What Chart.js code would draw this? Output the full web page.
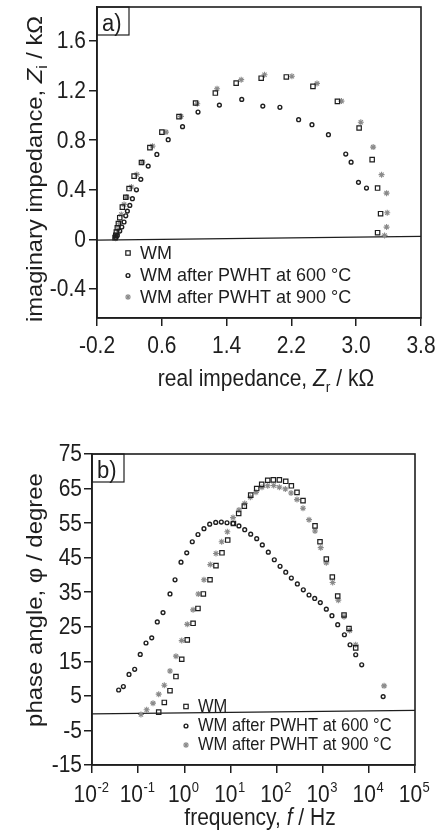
<!DOCTYPE html>
<html><head><meta charset="utf-8">
<script src="https://cdn.jsdelivr.net/npm/chart.js@4.4.1/dist/chart.umd.min.js"></script>
<style>
html,body{margin:0;padding:0;background:#fff;}
#wrap{position:relative;width:440px;height:836px;overflow:hidden;}
canvas{position:absolute;left:0;}
#ca{top:0;} #cb{top:410px;}
</style></head><body>
<div id="wrap"><canvas id="ca" width="440" height="410"></canvas><canvas id="cb" width="440" height="426"></canvas></div>
<script>
const FONT = '"Liberation Sans", Arial, Helvetica, sans-serif';
const INK = '#1e1e1e';
const GREY = '#8a8a8a';
const STRETCH = 1.11;

// ---------- (a) Nyquist data, kΩ ----------
const wmZr = [0.023,0.032,0.039,0.051,0.064,0.081,0.113,0.155,0.196,0.258,0.349,0.453,0.601,0.812,1.017,1.261,1.518,1.827,2.137,2.466,2.768,3.036,3.197,3.264,3.301,3.264];
const wmZi = [0.014,0.032,0.059,0.094,0.127,0.175,0.26,0.34,0.41,0.51,0.62,0.74,0.865,0.99,1.10,1.18,1.26,1.30,1.31,1.234,1.113,0.898,0.643,0.414,0.207,0.054];
const p600Zr = [0.032,0.051,0.081,0.106,0.134,0.155,0.175,0.205,0.237,0.287,0.341,0.432,0.539,0.679,0.856,1.047,1.311,1.587,1.847,2.058,2.289,2.454,2.657,2.871,2.937,3.028,3.127];
const p600Zi = [0.014,0.032,0.067,0.10,0.14,0.19,0.228,0.274,0.328,0.40,0.484,0.591,0.685,0.804,0.909,1.027,1.083,1.129,1.075,1.065,0.965,0.925,0.844,0.688,0.623,0.46,0.414];
const p900Zr = [0.03,0.045,0.06,0.08,0.1,0.134,0.168,0.225,0.292,0.361,0.485,0.651,0.836,1.038,1.282,1.58,1.868,2.206,2.516,2.818,3.057,3.209,3.313,3.375,3.383,3.375,3.35];
const p900Zi = [0.01,0.04,0.08,0.13,0.2,0.282,0.341,0.422,0.524,0.623,0.752,0.865,0.992,1.094,1.215,1.288,1.328,1.315,1.258,1.115,0.944,0.744,0.522,0.373,0.215,0.099,0.032];
const fitAx = [-0.2, 3.8];
const fitAy = [-0.006, 0.024];
const xTicksA = [-0.2, 0.6, 1.4, 2.2, 3.0, 3.8];
const yTicksA = [-0.4, 0, 0.4, 0.8, 1.2, 1.6];

// ---------- (b) Bode phase data ----------
const wmF = [0.279,0.369,0.49,0.66,0.88,1.16,1.55,1.98,2.59,3.61,4.86,6.56,8.73,11.6,15.1,20.0,27.5,37.1,47.6,64.3,85.1,115,158,209,277,374,681,873,1197,1614,2113,2897,3715,5188];
const wmPh = [0.3,3.1,6.5,10.6,15.6,21.2,26.0,30.3,34.5,38.6,42.7,46.4,50.1,54.9,57.8,59.9,63.1,65.0,66.2,67.4,67.5,67.5,67.1,65.8,63.9,61.5,54.2,49.6,44.6,39.4,33.9,28.4,24.5,18.9];
const p600F = [0.0378,0.0478,0.0634,0.0841,0.111,0.148,0.197,0.26,0.346,0.49,0.63,0.849,1.13,1.49,1.98,2.67,3.55,4.8,6.35,8.43,11.4,15.3,20.4,27.5,37.1,49.1,66.2,89.3,119,158,209,282,380,505,671,887,1197,1585,2113,2951,3908,5188,7000,20400];
const p600Ph = [6.7,7.7,11.2,12.7,17.0,20.3,21.8,26.4,29.1,34.5,38.6,43.7,46.4,49.6,51.7,53.4,54.7,55.2,55.3,55.1,54.9,54.2,53.1,51.8,50.5,48.7,46.6,44.4,42.5,40.8,39.1,37.4,35.7,34.2,33.2,32.0,30.1,28.2,25.6,22.7,19.8,16.9,14.0,4.8];
const p900F = [0.115,0.153,0.21,0.279,0.369,0.49,0.66,0.88,1.16,1.55,2.01,2.67,3.66,4.86,6.46,8.57,11.4,15.3,20.4,27.0,35.8,48.3,64.3,86.7,115,155,206,277,374,505,681,906,1197,1644,2178,2897,3846,5188,21380];
const p900Ph = [-0.4,1.0,2.9,5.5,8.1,12.2,16.5,21.0,25.7,29.9,34.5,38.6,43.0,46.2,49.6,52.5,56.6,58.8,60.7,62.5,63.9,65.4,65.8,65.9,65.4,64.9,63.7,61.8,59.3,56.0,52.7,47.9,43.5,37.8,32.7,27.9,23.9,19.8,7.9];
const fitBx = [0.01, 1e5];
const fitBy = [-0.2, 0.8];
const xTicksB = [1e-2, 1e-1, 1e0, 1e1, 1e2, 1e3, 1e4, 1e5];
const yTicksB = [-15, -5, 5, 15, 25, 35, 45, 55, 65, 75];

const legendLabels = ['WM', 'WM after PWHT at 600 °C', 'WM after PWHT at 900 °C'];

function pts(xs, ys) { return xs.map((x, i) => ({ x: x, y: ys[i] })); }

function seriesSets(a, b, c, fit) {
  return [
    { type: 'scatter', data: a, pointStyle: 'rect', pointRadius: 3.1, borderColor: INK, backgroundColor: 'rgba(0,0,0,0)', pointBorderWidth: 1.2 },
    { type: 'scatter', data: b, pointStyle: 'circle', pointRadius: 1.9, borderColor: INK, backgroundColor: 'rgba(0,0,0,0)', pointBorderWidth: 1.4 },
    { type: 'scatter', data: c, pointStyle: 'star', pointRadius: 3.0, borderColor: GREY, backgroundColor: 'rgba(0,0,0,0)', pointBorderWidth: 1.1 },
    { type: 'line', data: fit, borderColor: INK, borderWidth: 1.3, pointRadius: 0, fill: false, tension: 0 }
  ];
}

function font(size, style) { return (style || '') + ' ' + size + 'px ' + FONT; }

// text drawn with a slight stretch to mimic the reference's glyph proportions
function textS(ctx, s, x, y, sx, sy) {
  ctx.save(); ctx.translate(x, y); ctx.scale(sx, sy); ctx.fillText(s, 0, 0); ctx.restore();
}

function drawRich(ctx, parts, x, y, sx, sy) {
  let w = 0;
  parts.forEach(p => { ctx.font = font(p.s, p.i ? 'italic' : ''); p.w = ctx.measureText(p.t).width; w += p.w; });
  ctx.save(); ctx.translate(x, y); ctx.scale(sx, sy);
  let cx = -w / 2;
  ctx.textAlign = 'left'; ctx.textBaseline = 'alphabetic';
  parts.forEach(p => { ctx.font = font(p.s, p.i ? 'italic' : ''); ctx.fillText(p.t, cx, (p.dy || 0)); cx += p.w; });
  ctx.restore();
}

function legendMarker(ctx, kind, x, y) {
  ctx.save();
  if (kind === 0) { ctx.strokeStyle = INK; ctx.lineWidth = 1.2; ctx.strokeRect(x - 2.2, y - 2.2, 4.4, 4.4); }
  else if (kind === 1) { ctx.strokeStyle = INK; ctx.lineWidth = 1.4; ctx.beginPath(); ctx.arc(x, y, 1.9, 0, Math.PI * 2); ctx.stroke(); }
  else { ctx.strokeStyle = GREY; ctx.lineWidth = 1.1; ctx.beginPath();
    for (let k = 0; k < 4; k++) { const a = k * Math.PI / 4; ctx.moveTo(x - 3 * Math.cos(a), y - 3 * Math.sin(a)); ctx.lineTo(x + 3 * Math.cos(a), y + 3 * Math.sin(a)); }
    ctx.stroke(); }
  ctx.restore();
}

function makeDecor(cfg) {
  return {
    id: 'decor',
    afterDraw(chart) {
      const ctx = chart.ctx, ca = chart.chartArea, xs = chart.scales.x, ys = chart.scales.y;
      ctx.save();
      ctx.strokeStyle = INK; ctx.lineWidth = 1.6;
      ctx.strokeRect(ca.left, ca.top, ca.right - ca.left, ca.bottom - ca.top);
      ctx.fillStyle = INK;
      // y tick labels
      ctx.font = font(cfg.tickSize); ctx.textAlign = 'right'; ctx.textBaseline = 'middle';
      ys.ticks.forEach(t => { textS(ctx, cfg.yFmt(t.value), cfg.yLabelRight, ys.getPixelForValue(t.value) + 1, 1, STRETCH); });
      // x tick labels
      xs.ticks.forEach(t => {
        const px = xs.getPixelForValue(t.value);
        if (cfg.log) {
          const e = String(Math.round(Math.log10(t.value)));
          ctx.font = font(cfg.tickSize); const w1 = ctx.measureText('10').width;
          ctx.font = font(13); const w2 = ctx.measureText(e).width;
          const x0 = px - (w1 + w2) / 2 - 1;
          ctx.textAlign = 'left'; ctx.textBaseline = 'alphabetic';
          ctx.font = font(cfg.tickSize); textS(ctx, '10', x0, cfg.xLabelBase, 1, STRETCH);
          ctx.font = font(13); textS(ctx, e, x0 + w1 + 0.5, cfg.xLabelBase - 10, 1, STRETCH);
        } else {
          ctx.font = font(cfg.tickSize); ctx.textAlign = 'center'; ctx.textBaseline = 'alphabetic';
          textS(ctx, cfg.xFmt(t.value), px, cfg.xLabelBase, 1, STRETCH);
        }
      });
      // axis titles
      drawRich(ctx, cfg.xTitle, cfg.xTitleX, cfg.xTitleY, 1, STRETCH);
      ctx.save(); ctx.translate(cfg.yTitleX, cfg.yTitleY); ctx.rotate(-Math.PI / 2);
      drawRich(ctx, cfg.yTitle, 0, 0, cfg.yTitleStretch, 1.04); ctx.restore();
      // panel label
      ctx.lineWidth = 1.2; ctx.strokeRect(ca.left, ca.top, cfg.boxW, cfg.boxH);
      ctx.font = font(22); ctx.textAlign = 'left'; ctx.textBaseline = 'alphabetic';
      textS(ctx, cfg.panel, ca.left + cfg.panelDx, ca.top + cfg.panelDy, 1, STRETCH);
      // legend
      ctx.font = font(cfg.legSize); ctx.textBaseline = 'middle'; ctx.textAlign = 'left';
      legendLabels.forEach((lab, i) => {
        legendMarker(ctx, i, cfg.legMarkX, cfg.legY[i]);
        ctx.fillStyle = INK; textS(ctx, lab, cfg.legTextX, cfg.legY[i] + 0.5, 1, cfg.legStretch);
      });
      ctx.restore();
    }
  };
}

function axisCommon(extra) {
  return Object.assign({
    ticks: { display: false },
    grid: { drawOnChartArea: false, drawTicks: true, tickLength: 8, color: INK, lineWidth: 1.5 },
    border: { display: true, color: INK, width: 1.6 },
    title: { display: false }
  }, extra);
}

Chart.defaults.font.family = FONT;

new Chart(document.getElementById('ca'), {
  data: { datasets: seriesSets(pts(wmZr, wmZi), pts(p600Zr, p600Zi), pts(p900Zr, p900Zi), pts(fitAx, fitAy)) },
  options: {
    responsive: false, animation: false, devicePixelRatio: 1,
    layout: { padding: { left: 0, right: 19, top: 7, bottom: 0 } },
    plugins: { legend: { display: false }, tooltip: { enabled: false } },
    scales: {
      x: axisCommon({ type: 'linear', min: -0.2, max: 3.8,
        afterBuildTicks: s => { s.ticks = xTicksA.map(v => ({ value: v })); },
        afterFit: s => { s.height = 92; } }),
      y: axisCommon({ type: 'linear', min: -0.634, max: 1.874,
        afterBuildTicks: s => { s.ticks = yTicksA.map(v => ({ value: v })); },
        afterFit: s => { s.width = 97; } })
    }
  },
  plugins: [makeDecor({
    tickSize: 21, yLabelRight: 86, xLabelBase: 353, log: false,
    yFmt: v => (v === 0 ? '0' : v.toFixed(1)), xFmt: v => v.toFixed(1),
    xTitle: [{ t: 'real impedance, ', s: 21 }, { t: 'Z', s: 21, i: true }, { t: 'r', s: 14, dy: 5 }, { t: ' / kΩ', s: 21 }],
    xTitleX: 266, xTitleY: 386,
    yTitle: [{ t: 'imaginary impedance, ', s: 21 }, { t: 'Z', s: 21, i: true }, { t: 'i', s: 14, dy: 5 }, { t: ' / kΩ', s: 21 }],
    yTitleX: 42, yTitleY: 169, yTitleStretch: 1.13,
    panel: 'a)', boxW: 32, boxH: 28, panelDx: 5, panelDy: 24,
    legSize: 18, legStretch: 1.03, legMarkX: 128, legTextX: 140, legY: [253, 275.5, 297]
  })]
});

new Chart(document.getElementById('cb'), {
  data: { datasets: seriesSets(pts(wmF, wmPh), pts(p600F, p600Ph), pts(p900F, p900Ph), pts(fitBx, fitBy)) },
  options: {
    responsive: false, animation: false, devicePixelRatio: 1,
    layout: { padding: { left: 0, right: 25, top: 44, bottom: 0 } },
    plugins: { legend: { display: false }, tooltip: { enabled: false } },
    scales: {
      x: axisCommon({ type: 'logarithmic', min: 0.01, max: 1e5,
        afterBuildTicks: s => { s.ticks = xTicksB.map(v => ({ value: v })); },
        afterFit: s => { s.height = 71; } }),
      y: axisCommon({ type: 'linear', min: -15, max: 75,
        afterBuildTicks: s => { s.ticks = yTicksB.map(v => ({ value: v })); },
        afterFit: s => { s.width = 92; } })
    }
  },
  plugins: [makeDecor({
    tickSize: 21, yLabelRight: 82, xLabelBase: 391.5, log: true,
    yFmt: v => String(v), xFmt: v => String(v),
    xTitle: [{ t: 'frequency, ', s: 21 }, { t: 'f', s: 21, i: true }, { t: ' / Hz', s: 21 }],
    xTitleX: 260, xTitleY: 415,
    yTitle: [{ t: 'phase angle, φ / degree', s: 21 }],
    yTitleX: 42, yTitleY: 190, yTitleStretch: 1.14,
    panel: 'b)', boxW: 32, boxH: 28, panelDx: 5, panelDy: 24,
    legSize: 16.5, legStretch: 1.08, legMarkX: 186, legTextX: 198, legY: [296.5, 316, 335]
  })]
});
</script>
</body></html>
